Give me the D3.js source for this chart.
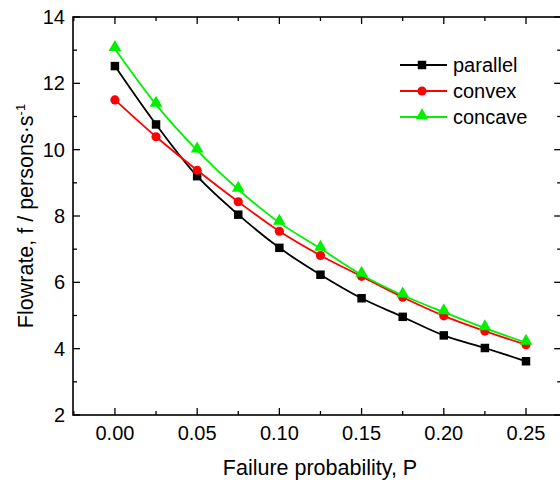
<!DOCTYPE html>
<html>
<head>
<meta charset="utf-8">
<script src="https://cdn.jsdelivr.net/npm/d3@7/dist/d3.min.js"></script>
<style>
  body { margin: 0; background: #fff; }
  text { font-family: "Liberation Sans", Arial, sans-serif; fill: #000; }
</style>
</head>
<body>
<div id="chart"></div>
<script>
var probability = [0, 0.025, 0.05, 0.075, 0.1, 0.125, 0.15, 0.175, 0.2, 0.225, 0.25];
var parallel = [12.52, 10.76, 9.2, 8.04, 7.04, 6.23, 5.52, 4.96, 4.4, 4.02, 3.62];
var convex = [11.5, 10.39, 9.38, 8.43, 7.54, 6.81, 6.18, 5.55, 4.99, 4.53, 4.12];
var concave = [13.04, 11.36, 9.98, 8.8, 7.8, 7.02, 6.23, 5.61, 5.1, 4.62, 4.18];
var xTicks = [0, 0.05, 0.1, 0.15, 0.2, 0.25];
var yTicks = [2, 4, 6, 8, 10, 12, 14];

var W = 560, H = 481;
var margin = { left: 73, top: 17, right: -1.2, bottom: 66 };

var svg = d3.select("#chart").append("svg").attr("width", W).attr("height", H);

var x = d3.scaleLinear().domain([-0.0255, 0.2714]).range([margin.left, W - margin.right]);
var y = d3.scaleLinear().domain([2, 14]).range([H - margin.bottom, margin.top]);

var series = [
    { name: "parallel", values: parallel, color: "#000000", shape: d3.symbolSquare, size: 72 },
    { name: "convex", values: convex, color: "#ff0000", shape: d3.symbolCircle, size: 66 },
    { name: "concave", values: concave, color: "#00f000", shape: d3.symbolTriangle, size: 70 }
];

// ticks pointing inward on all four sides
var xMinor = d3.range(-0.025, 0.2701, 0.025).filter(function (v) { return v > -0.0255; });
var yMinor = d3.range(3, 14, 2);
var x0 = margin.left, x1 = W - margin.right, y0 = H - margin.bottom, y1 = margin.top;

var ticks = svg.append("g").attr("stroke", "#000").attr("stroke-width", 1.3);
xMinor.forEach(function (v) {
    var major = xTicks.some(function (t) { return Math.abs(t - v) < 1e-6; });
    var len = major ? 7 : 4;
    ticks.append("line").attr("x1", x(v)).attr("x2", x(v)).attr("y1", y0).attr("y2", y0 - len);
    ticks.append("line").attr("x1", x(v)).attr("x2", x(v)).attr("y1", y1).attr("y2", y1 + len);
});
yTicks.concat(yMinor).forEach(function (v) {
    var len = (v % 2 === 0) ? 7 : 4;
    ticks.append("line").attr("y1", y(v)).attr("y2", y(v)).attr("x1", x0).attr("x2", x0 + len);
    ticks.append("line").attr("y1", y(v)).attr("y2", y(v)).attr("x1", x1).attr("x2", x1 - len);
});

svg.append("rect")
    .attr("x", x0).attr("y", y1)
    .attr("width", x1 - x0).attr("height", y0 - y1)
    .attr("fill", "none").attr("stroke", "#000").attr("stroke-width", 1.6);

// tick labels
svg.append("g").selectAll("text").data(xTicks).join("text")
    .attr("x", function (d) { return x(d); })
    .attr("y", 440)
    .attr("text-anchor", "middle")
    .style("font-size", "20px")
    .text(function (d) { return d3.format(".2f")(d); });

svg.append("g").selectAll("text").data(yTicks).join("text")
    .attr("x", 65)
    .attr("y", function (d) { return y(d) + 7; })
    .attr("text-anchor", "end")
    .style("font-size", "20px")
    .text(function (d) { return d; });

// axis titles
svg.append("text")
    .attr("x", 320).attr("y", 475)
    .attr("text-anchor", "middle")
    .style("font-size", "21.5px")
    .text("Failure probability, P");

var yt = svg.append("text")
    .attr("transform", "translate(33,216) rotate(-90)")
    .attr("text-anchor", "middle")
    .style("font-size", "21.5px");
yt.append("tspan").text("Flowrate, f / persons\u00b7s");
yt.append("tspan").attr("dy", -8).style("font-size", "13px").text("-1");

// series
var line = d3.line()
    .x(function (d, i) { return x(probability[i]); })
    .y(function (d) { return y(d); })
    .curve(d3.curveCatmullRom.alpha(0.5));

series.forEach(function (s) {
    var g = svg.append("g");
    g.append("path")
        .attr("d", line(s.values))
        .attr("fill", "none")
        .attr("stroke", s.color)
        .attr("stroke-width", 1.8);
    g.selectAll("path.pt").data(s.values).join("path")
        .attr("class", "pt")
        .attr("transform", function (d, i) {
            var dy = s.shape === d3.symbolTriangle ? -1.5 : 0;
            return "translate(" + x(probability[i]) + "," + (y(d) + dy) + ")";
        })
        .attr("d", d3.symbol().type(s.shape).size(s.size))
        .attr("fill", s.color);
});

// legend
var legend = svg.append("g");
series.forEach(function (s, i) {
    var ly = 65 + i * 26;
    legend.append("line")
        .attr("x1", 400).attr("x2", 447).attr("y1", ly).attr("y2", ly)
        .attr("stroke", s.color).attr("stroke-width", 1.8);
    legend.append("path")
        .attr("transform", "translate(422," + (ly + (s.shape === d3.symbolTriangle ? -1.5 : 0)) + ")")
        .attr("d", d3.symbol().type(s.shape).size(s.size))
        .attr("fill", s.color);
    legend.append("text")
        .attr("x", 453).attr("y", ly + 7)
        .style("font-size", "20px")
        .text(s.name);
});
</script>
</body>
</html>
